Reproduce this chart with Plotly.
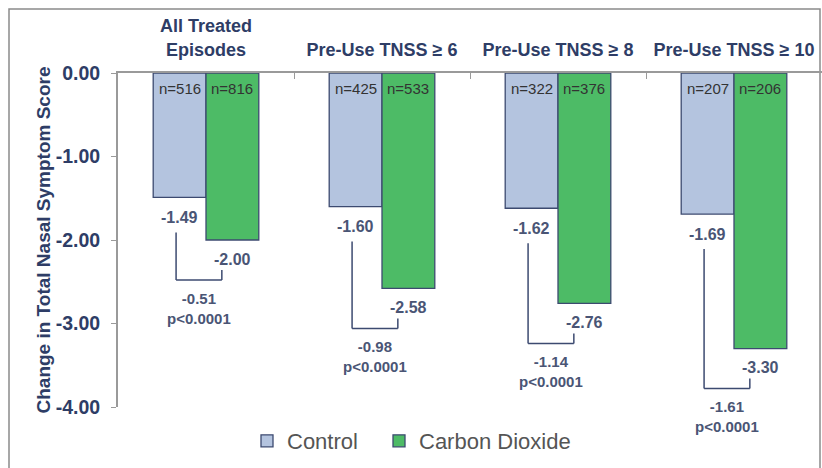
import plotly.graph_objects as go

# ---------------- data ----------------
categories = ["All Treated<br>Episodes", "Pre-Use TNSS ≥ 6", "Pre-Use TNSS ≥ 8", "Pre-Use TNSS ≥ 10"]
control = [-1.49, -1.60, -1.62, -1.69]
co2 = [-2.00, -2.58, -2.76, -3.30]
n_control = [516, 425, 322, 207]
n_co2 = [816, 533, 376, 206]
diff = [-0.51, -0.98, -1.14, -1.61]
p_values = ["p<0.0001", "p<0.0001", "p<0.0001", "p<0.0001"]
y_ticks = [0, -1, -2, -3, -4]
y_ticktext = ["0.00", "-1.00", "-2.00", "-3.00", "-4.00"]

# ---------------- style ----------------
FONT = "Arial, Liberation Sans, sans-serif"
NAVY = "#2e3d66"
LABEL = "#4a5575"
C_CTRL = "#b4c4df"
C_CO2 = "#4dbb66"
EDGE = "#3c4a70"
W, H = 822, 468
ML, MR, MT, MB = 118, 0, 73, 61
PLOT_W = W - ML - MR
PLOT_H = H - MT - MB
PX_PER_UNIT = PLOT_H / 4.0


def px(p):
    return p / PX_PER_UNIT


def fmt(v):
    return f"{v:.2f}"


fig = go.Figure()
fig.add_trace(go.Bar(x=categories, y=control, name="Control", legend="legend", showlegend=True,
                     marker=dict(color=C_CTRL, line=dict(color=EDGE, width=1.3))))
fig.add_trace(go.Bar(x=categories, y=co2, name="Carbon Dioxide", legend="legend2", showlegend=True,
                     marker=dict(color=C_CO2, line=dict(color=EDGE, width=1.3))))

ann = []
shapes = []
for i in range(len(categories)):
    xc, xg = i - 0.15, i + 0.15
    # n labels
    ann.append(dict(x=xc, y=0, text=f"n={n_control[i]}", yshift=-15, showarrow=False,
                    font=dict(size=15, color="#333333", family=FONT)))
    ann.append(dict(x=xg, y=0, text=f"n={n_co2[i]}", yshift=-15, showarrow=False,
                    font=dict(size=15, color="#333333", family=FONT)))
    # value labels
    ann.append(dict(x=xc, y=control[i], text=fmt(control[i]), yshift=-20, showarrow=False,
                    font=dict(size=16, color=LABEL, family=FONT, weight="bold")))
    ann.append(dict(x=xg, y=co2[i], text=fmt(co2[i]), yshift=-19, showarrow=False,
                    font=dict(size=16, color=LABEL, family=FONT, weight="bold")))
    # bracket
    top_l = control[i] - px(35)
    bottom = co2[i] - px(40)
    top_r = bottom + px(10)
    xl, xr = i - 0.17, i + 0.09
    for (x0, y0, x1, y1) in [(xl, top_l, xl, bottom), (xl, bottom, xr, bottom), (xr, bottom, xr, top_r)]:
        shapes.append(dict(type="line", xref="x", yref="y", x0=x0, y0=y0, x1=x1, y1=y1,
                           line=dict(color=EDGE, width=1.5)))
    # difference + p
    ann.append(dict(x=i - 0.04, y=bottom, text=f"{fmt(diff[i])}<br>{p_values[i]}", yshift=-28,
                    showarrow=False, align="center",
                    font=dict(size=15, color=LABEL, family=FONT, weight="bold")))

# outer frame
shapes.append(dict(type="rect", xref="paper", yref="paper",
                   x0=(9 - ML) / PLOT_W, x1=(820 - ML) / PLOT_W,
                   y0=-(475 - (H - MB)) / PLOT_H, y1=1 + (MT - 9) / PLOT_H,
                   line=dict(color="#8a8a8a", width=1.5), layer="below"))

legend_font = dict(size=22, color="#555555", family=FONT)
legend_y = -(441 - (H - MB)) / PLOT_H

fig.update_layout(
    width=W, height=H, showlegend=True,
    margin=dict(l=ML, r=MR, t=MT, b=MB, autoexpand=False),
    paper_bgcolor="white", plot_bgcolor="rgba(0,0,0,0)",
    barmode="group", bargap=0.4, bargroupgap=0,
    font=dict(family=FONT),
    annotations=ann, shapes=shapes,
    legend=dict(orientation="h", x=(247 - ML) / PLOT_W, y=legend_y, xanchor="left", yanchor="middle",
                font=legend_font, bgcolor="rgba(0,0,0,0)", visible=True),
    legend2=dict(orientation="h", x=(379 - ML) / PLOT_W, y=legend_y, xanchor="left", yanchor="middle",
                 font=legend_font, bgcolor="rgba(0,0,0,0)", visible=True),
    xaxis=dict(side="top", showline=True, linecolor="#9a9a9a", linewidth=2, automargin=False,
               ticks="inside", tickson="boundaries", ticklen=6, tickcolor="#9a9a9a",
               tickfont=dict(size=18, color=NAVY, family=FONT, weight="bold"),
               ticklabelstandoff=8, showgrid=False, zeroline=False),
    yaxis=dict(range=[-4, 0], tickvals=y_ticks, ticktext=y_ticktext, automargin=False,
               ticks="outside", ticklen=5, tickcolor="#9a9a9a",
               showline=True, linecolor="#9a9a9a", linewidth=2,
               showgrid=False, zeroline=False, ticklabelstandoff=7,
               tickfont=dict(size=19.5, color=NAVY, family=FONT, weight="bold"),
               title=dict(text="Change in Total Nasal Symptom Score", standoff=0,
                          font=dict(size=19, color=NAVY, family=FONT, weight="bold"))),
)

fig.write_html("out.html", config={"displayModeBar": False},
               post_script="document.body.style.margin='0';")
